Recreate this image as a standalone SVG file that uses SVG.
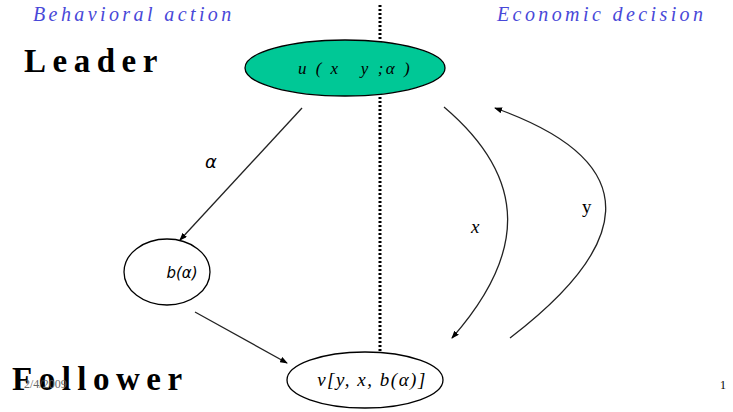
<svg xmlns="http://www.w3.org/2000/svg" width="733" height="412" viewBox="0 0 733 412">
<defs>
<marker id="ah" markerWidth="8" markerHeight="6" refX="7" refY="3" orient="auto" markerUnits="userSpaceOnUse">
<path d="M0,0 L8,3 L0,6 Z" fill="#000"/>
</marker>
<style>
.edge{fill:none;stroke:#222;stroke-width:1.3}
.hdr{font-family:"Liberation Serif",serif;font-style:italic;font-size:20px;fill:#4848d8;letter-spacing:3.4px}
.role{font-family:"Liberation Serif",serif;font-weight:bold;font-size:33px;fill:#000;letter-spacing:6.5px}
.math{font-family:"Liberation Serif",serif;font-style:italic;fill:#000}
</style>
</defs>
<rect width="733" height="412" fill="#fff"/>
<line x1="380" y1="5" x2="380" y2="355" stroke="#000" stroke-width="3" stroke-dasharray="2,2"/>
<text class="hdr" x="33" y="21">Behavioral action</text>
<text class="hdr" x="497" y="21">Economic decision</text>
<text class="role" x="24" y="72">Leader</text>
<text class="role" x="12" y="390">Follower</text>
<text x="24" y="388" font-family="Liberation Serif,serif" font-size="12" fill="#666">2/4/2009</text>
<text x="720" y="389" font-family="Liberation Serif,serif" font-size="12" fill="#000">1</text>
<g id="leader">
<ellipse cx="345" cy="68" rx="100" ry="28" fill="#00c896" stroke="#000" stroke-width="1.3"/>
<text class="math" x="355" y="74" font-size="17" letter-spacing="2.5" text-anchor="middle" xml:space="preserve">u ( x   y ;α )</text>
</g>
<g id="behavior">
<ellipse cx="167" cy="272" rx="43" ry="33" fill="#fff" stroke="#000" stroke-width="1.3"/>
<text x="182" y="278" font-family="DejaVu Sans,sans-serif" font-style="italic" font-size="15" text-anchor="middle">b(α)</text>
</g>
<g id="follower">
<ellipse cx="365" cy="380" rx="78" ry="28" fill="#fff" stroke="#000" stroke-width="1.3"/>
<text class="math" x="372" y="386" font-size="19" letter-spacing="1.5" text-anchor="middle">v[y, x, b(α)]</text>
</g>
<g id="connectors">
<line class="edge" x1="302" y1="108" x2="180" y2="240" marker-end="url(#ah)"/>
<line class="edge" x1="195" y1="312" x2="287" y2="363" marker-end="url(#ah)"/>
<path class="edge" d="M444,107 C530,180 525,255 452,338" marker-end="url(#ah)"/>
<path class="edge" d="M510,338 C625,250 655,165 495,108" marker-end="url(#ah)"/>
<text x="205" y="168" font-family="DejaVu Sans,sans-serif" font-style="italic" font-size="18">α</text>
<text class="math" x="471" y="233" font-size="19">x</text>
<text x="582" y="213" font-family="Liberation Serif,serif" font-size="19">y</text>
</g>
</svg>
